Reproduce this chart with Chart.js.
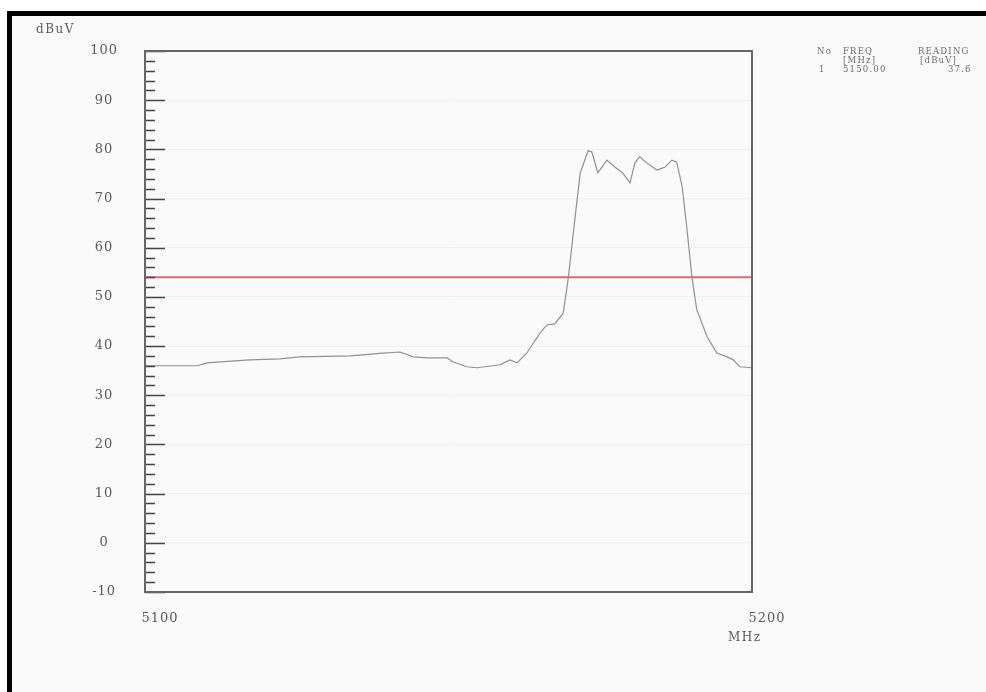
<!DOCTYPE html>
<html>
<head>
<meta charset="utf-8">
<script src="https://cdn.jsdelivr.net/npm/chart.js@4.4.1/dist/chart.umd.min.js"></script>
<style>
  html, body { margin: 0; padding: 0; background: #fff; }
  #page { position: relative; width: 986px; height: 692px; overflow: hidden; }
  #frame { position: absolute; left: 7px; top: 11px; width: 1000px; height: 700px;
           border-left: 5px solid #000; border-top: 5px solid #000; background: #fafafa; }
  #wrap { position: absolute; left: 0; top: 0; width: 986px; height: 692px; }
  .lbl { position: absolute; font-family: "DejaVu Serif", serif; color: #5a5a5a; white-space: pre; }
  #unitY { left: 36px; top: 22px; font-size: 12px; letter-spacing: 1.5px; }
  #unitX { left: 728px; top: 630px; font-size: 12px; letter-spacing: 1.5px; }
  .mk { position: absolute; font-family: "DejaVu Serif", serif; font-size: 8.5px;
        letter-spacing: 1.2px; color: #6a6a6a; white-space: pre; }
</style>
</head>
<body>
<div id="page">
  <div id="frame"></div>
  <div id="wrap"><canvas id="chart" width="986" height="692"></canvas></div>
  <div class="lbl" id="unitY">dBuV</div>
  <div class="lbl" id="unitX">MHz</div>
  <div class="mk" style="left:817px;top:46px">No</div>
  <div class="mk" style="left:843px;top:46px">FREQ</div>
  <div class="mk" style="left:918px;top:46px">READING</div>
  <div class="mk" style="left:843px;top:55px">[MHz]</div>
  <div class="mk" style="left:920px;top:55px">[dBuV]</div>
  <div class="mk" style="left:819px;top:64px">1</div>
  <div class="mk" style="left:843px;top:64px">5150.00</div>
  <div class="mk" style="left:948px;top:64px">37.6</div>
</div>
<script>
// spectrum trace (MHz / dBuV)
const freqMHz = [5100.0, 5104.1, 5108.6, 5110.2, 5112.4, 5117.3, 5122.2, 5125.5, 5133.8, 5138.7,
  5142.0, 5144.2, 5146.5, 5149.8, 5150.7, 5153.0, 5154.7, 5158.5, 5160.1, 5161.3,
  5162.9, 5165.1, 5166.2, 5167.5, 5168.9, 5169.7, 5170.8, 5171.7, 5173.0, 5173.6,
  5174.6, 5176.1, 5177.4, 5178.7, 5179.9, 5180.7, 5181.5, 5182.7, 5184.3, 5185.7,
  5186.8, 5187.6, 5188.5, 5189.3, 5190.1, 5190.9, 5192.6, 5194.2, 5195.9, 5196.9,
  5198.0, 5200.0];
const levelDbuV = [36.0, 36.0, 36.0, 36.6, 36.8, 37.2, 37.4, 37.8, 38.0, 38.5,
  38.8, 37.8, 37.6, 37.6, 36.8, 35.8, 35.6, 36.2, 37.2, 36.6,
  38.6, 42.7, 44.3, 44.5, 46.7, 53.5, 65.6, 75.2, 79.7, 79.5,
  75.2, 77.8, 76.4, 75.2, 73.2, 77.2, 78.5, 77.2, 75.8, 76.4,
  77.8, 77.4, 72.4, 63.6, 54.1, 47.4, 41.9, 38.6, 37.8, 37.2,
  35.8, 35.6];
const limitDbuV = 54;
const xTicks = [5100, 5200];
const yMin = -10, yMax = 100;

const trace = freqMHz.map((f, i) => ({ x: f, y: levelDbuV[i] }));
const limitLine = [{ x: xTicks[0], y: limitDbuV }, { x: xTicks[1], y: limitDbuV }];

// wider tick label text like the scanned plot
const spacing = {
  id: 'spacing',
  beforeLayout(chart) { chart.ctx.letterSpacing = '1px'; },
  beforeDraw(chart) { chart.ctx.letterSpacing = '1px'; }
};

// small inward tick marks on the left axis + plot frame
const frameTicks = {
  id: 'frameTicks',
  afterDatasetsDraw(chart) {
    const { ctx, chartArea: a, scales: { y } } = chart;
    ctx.save();
    ctx.strokeStyle = '#444';
    ctx.lineWidth = 1.5;
    for (let v = yMin; v <= yMax; v += 2) {
      const py = Math.round(y.getPixelForValue(v)) + 0.5;
      const len = (v % 10 === 0) ? 20 : 10;
      ctx.beginPath();
      ctx.moveTo(a.left, py);
      ctx.lineTo(a.left + len, py);
      ctx.stroke();
    }
    ctx.strokeStyle = '#666';
    ctx.lineWidth = 2;
    ctx.strokeRect(a.left, a.top, a.right - a.left, a.bottom - a.top);
    ctx.restore();
  }
};

new Chart(document.getElementById('chart'), {
  type: 'line',
  data: {
    datasets: [
      { data: limitLine, borderColor: '#d86a74', borderWidth: 2, pointRadius: 0 },
      { data: trace, borderColor: '#8f8f9f', borderWidth: 1.2, pointRadius: 0, tension: 0 }
    ]
  },
  options: {
    responsive: false, animation: false,
    layout: { padding: { top: 51, right: 234, left: 0, bottom: 0 } },
    plugins: { legend: { display: false }, tooltip: { enabled: false } },
    scales: {
      x: {
        type: 'linear', min: xTicks[0], max: xTicks[1],
        afterFit: (s) => { s.height = 100; },
        afterBuildTicks: (s) => { s.ticks = xTicks.map(v => ({ value: v })); },
        grid: { display: false, drawTicks: false },
        border: { display: false },
        ticks: { color: '#5a5a5a', font: { family: 'DejaVu Serif', size: 13 }, padding: 19, labelOffset: 15,
                 maxRotation: 0, callback: v => String(v) }
      },
      y: {
        min: yMin, max: yMax,
        afterFit: (s) => { s.width = 145; },
        grid: { color: 'rgba(0,0,0,0.035)', drawTicks: false },
        border: { display: false },
        ticks: { stepSize: 10, color: '#5a5a5a', crossAlign: 'center', padding: 27,
                 font: { family: 'DejaVu Serif', size: 13 } }
      }
    }
  },
  plugins: [spacing, frameTicks]
});
</script>
</body>
</html>
